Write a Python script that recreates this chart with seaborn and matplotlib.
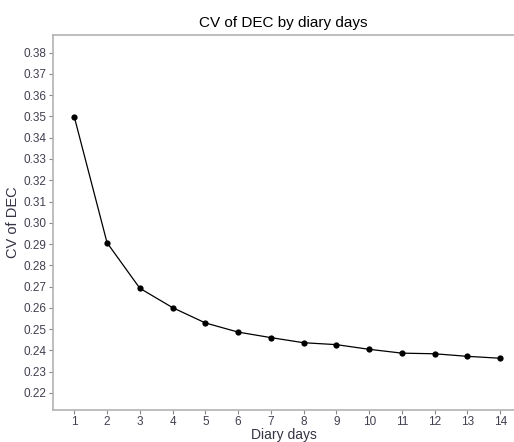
import matplotlib
matplotlib.use("Agg")
import matplotlib.pyplot as plt
import seaborn as sns
import pandas as pd

days = list(range(1, 15))
cv_values = [0.3498, 0.2906, 0.2692, 0.2601, 0.2529, 0.2486, 0.2460,
             0.2436, 0.2427, 0.2405, 0.2387, 0.2384, 0.2372, 0.2363]
y_ticks = [0.22, 0.23, 0.24, 0.25, 0.26, 0.27, 0.28, 0.29, 0.30,
           0.31, 0.32, 0.33, 0.34, 0.35, 0.36, 0.37, 0.38]

sns.set_theme(style="white")
plt.rcParams['font.family'] = ['Liberation Sans', 'DejaVu Sans']

df = pd.DataFrame({"Diary days": days, "CV of DEC": cv_values})

W, H = 514, 442
fig = plt.figure(figsize=(W / 100, H / 100), dpi=100)
ax = fig.add_axes([53 / W, 1 - 409.5 / H, (514 - 53) / W, (409.5 - 35) / H])

sns.lineplot(data=df, x="Diary days", y="CV of DEC", ax=ax, color="black",
             linewidth=0.9, marker="o", markersize=4.5, markeredgewidth=0)

ax.set_xlim(0.35, 14.42)
ax.set_ylim(0.2122, 0.3883)
ax.set_xticks(days)
ax.set_xticklabels([str(d) for d in days])
ax.set_yticks(y_ticks)
ax.set_yticklabels([f"{v:.2f}" for v in y_ticks])

for s in ["left", "bottom", "top"]:
    ax.spines[s].set_visible(True)
    ax.spines[s].set_color("#b3b3b3")
    ax.spines[s].set_linewidth(1.2)
ax.spines["right"].set_visible(False)

ax.tick_params(axis="both", which="both", length=3, width=0.8, color="#888888",
               labelsize=8.5, labelcolor="#404050", pad=2, left=True, bottom=True)

ax.set_xlabel("Diary days", fontsize=10, color="#333344", labelpad=0)
ax.set_ylabel("CV of DEC", fontsize=10.5, color="#333344", labelpad=2)
ax.set_title("CV of DEC by diary days", fontsize=11, color="black", pad=6)

fig.savefig("out.png", dpi=100)
